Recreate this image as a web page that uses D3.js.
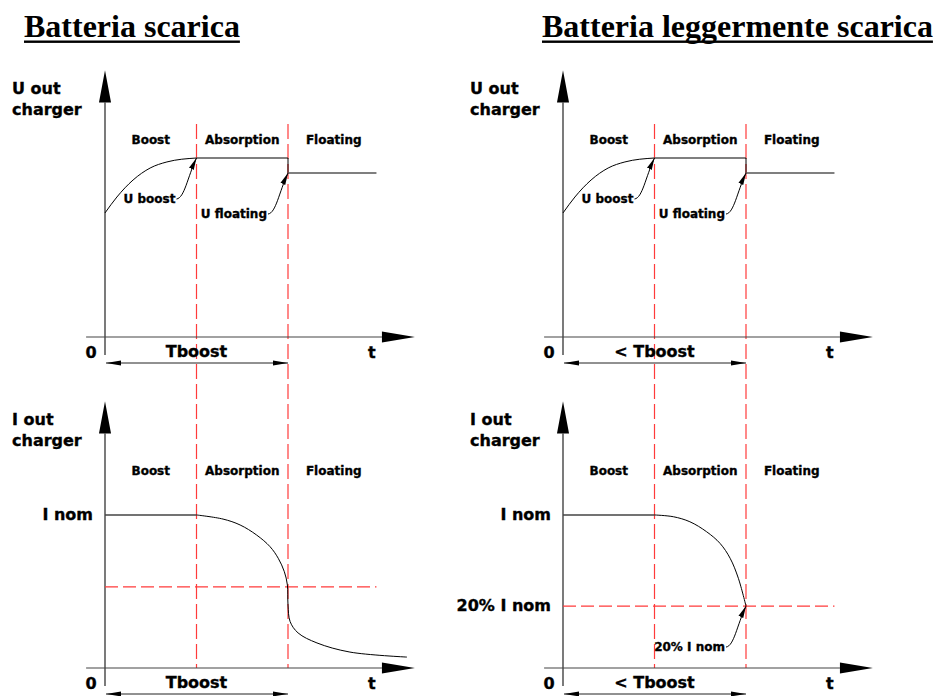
<!DOCTYPE html>
<html>
<head>
<meta charset="utf-8">
<script src="https://cdn.jsdelivr.net/npm/d3@7"></script>
<style>
  html, body { margin: 0; padding: 0; background: #fff; }
  svg { display: block; }
  .lbl { font-family: "DejaVu Sans", sans-serif; font-weight: bold; fill: #000; stroke: #000; stroke-width: 0.35px; }
  .title { font-family: "Liberation Serif", "Times New Roman", serif; font-weight: bold; font-size: 32px; fill: #000; }
</style>
</head>
<body>
<svg id="chart" width="934" height="696"></svg>
<script>
// titoli dei due casi
var titles = ["Batteria scarica", "Batteria leggermente scarica"];
var durationLabels = ["Tboost", "< Tboost"];
var axisNames = [["U out", "charger"], ["I out", "charger"]];
var phases = ["Boost", "Absorption", "Floating"];
var phaseEnds = [3, 6, 9]; // tempo (unita' arbitrarie)

// tensione uscita (uguale nei due casi), valori in % di U boost
var uBoostCurve = [[0, 69.3], [0.39, 78.2], [0.92, 87.7], [1.48, 94.4], [2.03, 97.8], [3, 100]];
var uAbsorption = [[3, 100], [6, 100]];
var uFloating = [[6, 91.6], [8.9, 91.6]];

// corrente uscita
var iNom = 85.5;
var iCurveScarica = [[0, 85.5], [3, 85.5], [3.87, 83.2], [4.43, 79.9], [4.97, 74.3], [5.41, 67.8],
    [5.68, 61.3], [5.88, 53.8], [5.98, 46.4], [6.0, 35.2], [6.07, 25.9], [6.33, 19.6],
    [6.95, 14.0], [8.03, 8.9], [9.9, 6.1]];
var iCurveLeggera = [[0, 85.5], [3, 85.5], [3.62, 84.5], [4.16, 81.7], [4.71, 76.1], [5.15, 69.6],
    [5.48, 61.3], [5.75, 50.1], [6, 34.6]];
var iThreshold = [45.3, 34.6];
var iThresholdLabel = [null, "20% I nom"];

var annotationsU = [
    { text: "U boost", t: 3, v: 100 },
    { text: "U floating", t: 6, v: 91.6 }
];
var annotationsI = [[], [{ text: "20% I nom", t: 6, v: 34.6 }]];

var svg = d3.select("#chart");
var red = "#ff3b3b";

var defs = svg.append("defs");
defs.append("marker")
    .attr("id", "tip")
    .attr("viewBox", "-12 -3 12 6")
    .attr("refX", 0).attr("refY", 0)
    .attr("markerWidth", 12).attr("markerHeight", 6)
    .attr("markerUnits", "userSpaceOnUse")
    .attr("orient", "auto")
    .append("path").attr("d", "M0,0L-12,-2.6L-12,2.6Z").attr("fill", "#000");
defs.append("marker")
    .attr("id", "dim")
    .attr("viewBox", "-15 -3 15 6")
    .attr("refX", 0).attr("refY", 0)
    .attr("markerWidth", 15).attr("markerHeight", 6)
    .attr("markerUnits", "userSpaceOnUse")
    .attr("orient", "auto-start-reverse")
    .append("path").attr("d", "M0,0L-15,-2.4L-15,2.4Z").attr("fill", "#000");

var lineFun = function (x, y, curve) {
    return d3.line()
        .x(function (d) { return x(d[0]); })
        .y(function (d) { return y(d[1]); })
        .curve(curve || d3.curveLinear);
};

function drawAxes(g, x, y, name, durLabel) {
    var y0 = y(0);
    // asse y
    g.append("line")
        .attr("x1", x(0)).attr("x2", x(0))
        .attr("y1", y(131)).attr("y2", y0 + 18)
        .attr("stroke", "#222").attr("stroke-width", 1.2);
    g.append("path")
        .attr("d", "M" + x(0) + "," + y(149) + "L" + (x(0) - 6) + "," + y(131) + "L" + (x(0) + 6) + "," + y(131) + "Z")
        .attr("fill", "#000");
    // asse x
    g.append("line")
        .attr("x1", x(-0.62)).attr("x2", x(9.08))
        .attr("y1", y0).attr("y2", y0)
        .attr("stroke", "#444").attr("stroke-width", 1.2);
    g.append("path")
        .attr("d", "M" + x(10.16) + "," + y0 + "L" + x(9.08) + "," + (y0 - 5.5) + "L" + x(9.08) + "," + (y0 + 5.5) + "Z")
        .attr("fill", "#000");

    g.append("text").attr("class", "lbl").style("font-size", "16px")
        .attr("x", x(0) - 14).attr("y", y0 + 21).attr("text-anchor", "middle").text("0");
    g.append("text").attr("class", "lbl").style("font-size", "16px")
        .attr("x", x(8.75)).attr("y", y0 + 21).attr("text-anchor", "middle").text("t");
    g.append("text").attr("class", "lbl").style("font-size", "16px")
        .attr("x", x(phaseEnds[0])).attr("y", y0 + 20).attr("text-anchor", "middle").text(durLabel);

    // quota durata
    g.append("line")
        .attr("x1", x(0) + 1).attr("x2", x(phaseEnds[1]))
        .attr("y1", y0 + 26).attr("y2", y0 + 26)
        .attr("stroke", "#222").attr("stroke-width", 1)
        .attr("marker-start", "url(#dim)").attr("marker-end", "url(#dim)");

    // nome asse
    g.append("text").attr("class", "lbl").style("font-size", "16px")
        .attr("x", x(0) - 93).attr("y", y(136))
        .selectAll("tspan").data(name).enter()
        .append("tspan")
        .attr("x", x(0) - 93)
        .attr("dy", function (d, i) { return i === 0 ? 0 : 21; })
        .text(function (d) { return d; });

    // fasi
    g.append("g").selectAll("text").data(phases).enter()
        .append("text").attr("class", "lbl").style("font-size", "12px")
        .attr("x", function (d, i) { return x((i === 0 ? 0 : phaseEnds[i - 1]) / 2 + phaseEnds[i] / 2); })
        .attr("y", y(108))
        .attr("text-anchor", "middle")
        .text(function (d) { return d; });
}

function drawAnnotations(g, x, y, list) {
    list.forEach(function (a) {
        var tx = x(a.t), ty = y(a.v);
        g.append("text").attr("class", "lbl").style("font-size", "12px")
            .attr("x", tx - 21).attr("y", ty + 45)
            .attr("text-anchor", "end").text(a.text);
        var sx = tx - 20, sy = ty + 41;
        g.append("path")
            .attr("d", "M" + sx + "," + sy + "C" + (sx + 8) + "," + (sy - 1) + " " + (tx - 9) + "," + (ty + 19) + " " + tx + "," + ty)
            .attr("fill", "none").attr("stroke", "#000").attr("stroke-width", 1)
            .attr("marker-end", "url(#tip)");
    });
}

[105, 563].forEach(function (x0, col) {
    var x = d3.scaleLinear().domain([0, 10]).range([x0, x0 + 305]);
    var yU = d3.scaleLinear().domain([0, 100]).range([337, 158]);
    var yI = d3.scaleLinear().domain([0, 100]).range([668, 489]);
    var g = svg.append("g");

    // titolo
    var titleX = col === 0 ? 24 : 542;
    var tt = g.append("text").attr("class", "title").attr("x", titleX).attr("y", 37).text(titles[col]);
    var tw = tt.node().getComputedTextLength();
    g.append("rect").attr("x", titleX).attr("y", 40.5).attr("width", tw).attr("height", 2.4).attr("fill", "#000");

    // linee di fase tratteggiate
    g.append("g").selectAll("line").data(phaseEnds.slice(0, 2)).enter()
        .append("line")
        .attr("x1", function (d) { return x(d); }).attr("x2", function (d) { return x(d); })
        .attr("y1", yU(119)).attr("y2", yI(0))
        .attr("stroke", red).attr("stroke-width", 1.2)
        .attr("stroke-dasharray", "15,5");

    drawAxes(g, x, yU, axisNames[0], durationLabels[col]);
    drawAxes(g, x, yI, axisNames[1], durationLabels[col]);

    // tensione
    g.append("path").attr("d", lineFun(x, yU, d3.curveMonotoneX)(uBoostCurve))
        .attr("fill", "none").attr("stroke", "#000").attr("stroke-width", 1);
    g.append("path").attr("d", lineFun(x, yU)(uAbsorption))
        .attr("fill", "none").attr("stroke", "#555").attr("stroke-width", 1.6);
    g.append("path").attr("d", lineFun(x, yU)([uAbsorption[1], uFloating[0]]))
        .attr("fill", "none").attr("stroke", "#000").attr("stroke-width", 1);
    g.append("path").attr("d", lineFun(x, yU)(uFloating))
        .attr("fill", "none").attr("stroke", "#555").attr("stroke-width", 1.6);
    drawAnnotations(g, x, yU, annotationsU);

    // corrente
    g.append("line")
        .attr("x1", x(0)).attr("x2", x(8.9))
        .attr("y1", yI(iThreshold[col])).attr("y2", yI(iThreshold[col]))
        .attr("stroke", red).attr("stroke-width", 1.2)
        .attr("stroke-dasharray", "13,5");
    var iData = col === 0 ? iCurveScarica : iCurveLeggera;
    g.append("path").attr("d", lineFun(x, yI)(iData.slice(0, 2)))
        .attr("fill", "none").attr("stroke", "#444").attr("stroke-width", 1.4);
    g.append("path").attr("d", lineFun(x, yI, d3.curveCatmullRom.alpha(0.5))(iData.slice(1)))
        .attr("fill", "none").attr("stroke", "#000").attr("stroke-width", 1);
    g.append("text").attr("class", "lbl").style("font-size", "16px")
        .attr("x", x(0) - 12).attr("y", yI(iNom) + 5)
        .attr("text-anchor", "end").text("I nom");
    if (iThresholdLabel[col]) {
        g.append("text").attr("class", "lbl").style("font-size", "16px")
            .attr("x", x(0) - 12).attr("y", yI(iThreshold[col]) + 5)
            .attr("text-anchor", "end").text(iThresholdLabel[col]);
    }
    drawAnnotations(g, x, yI, annotationsI[col]);
});
</script>
</body>
</html>
